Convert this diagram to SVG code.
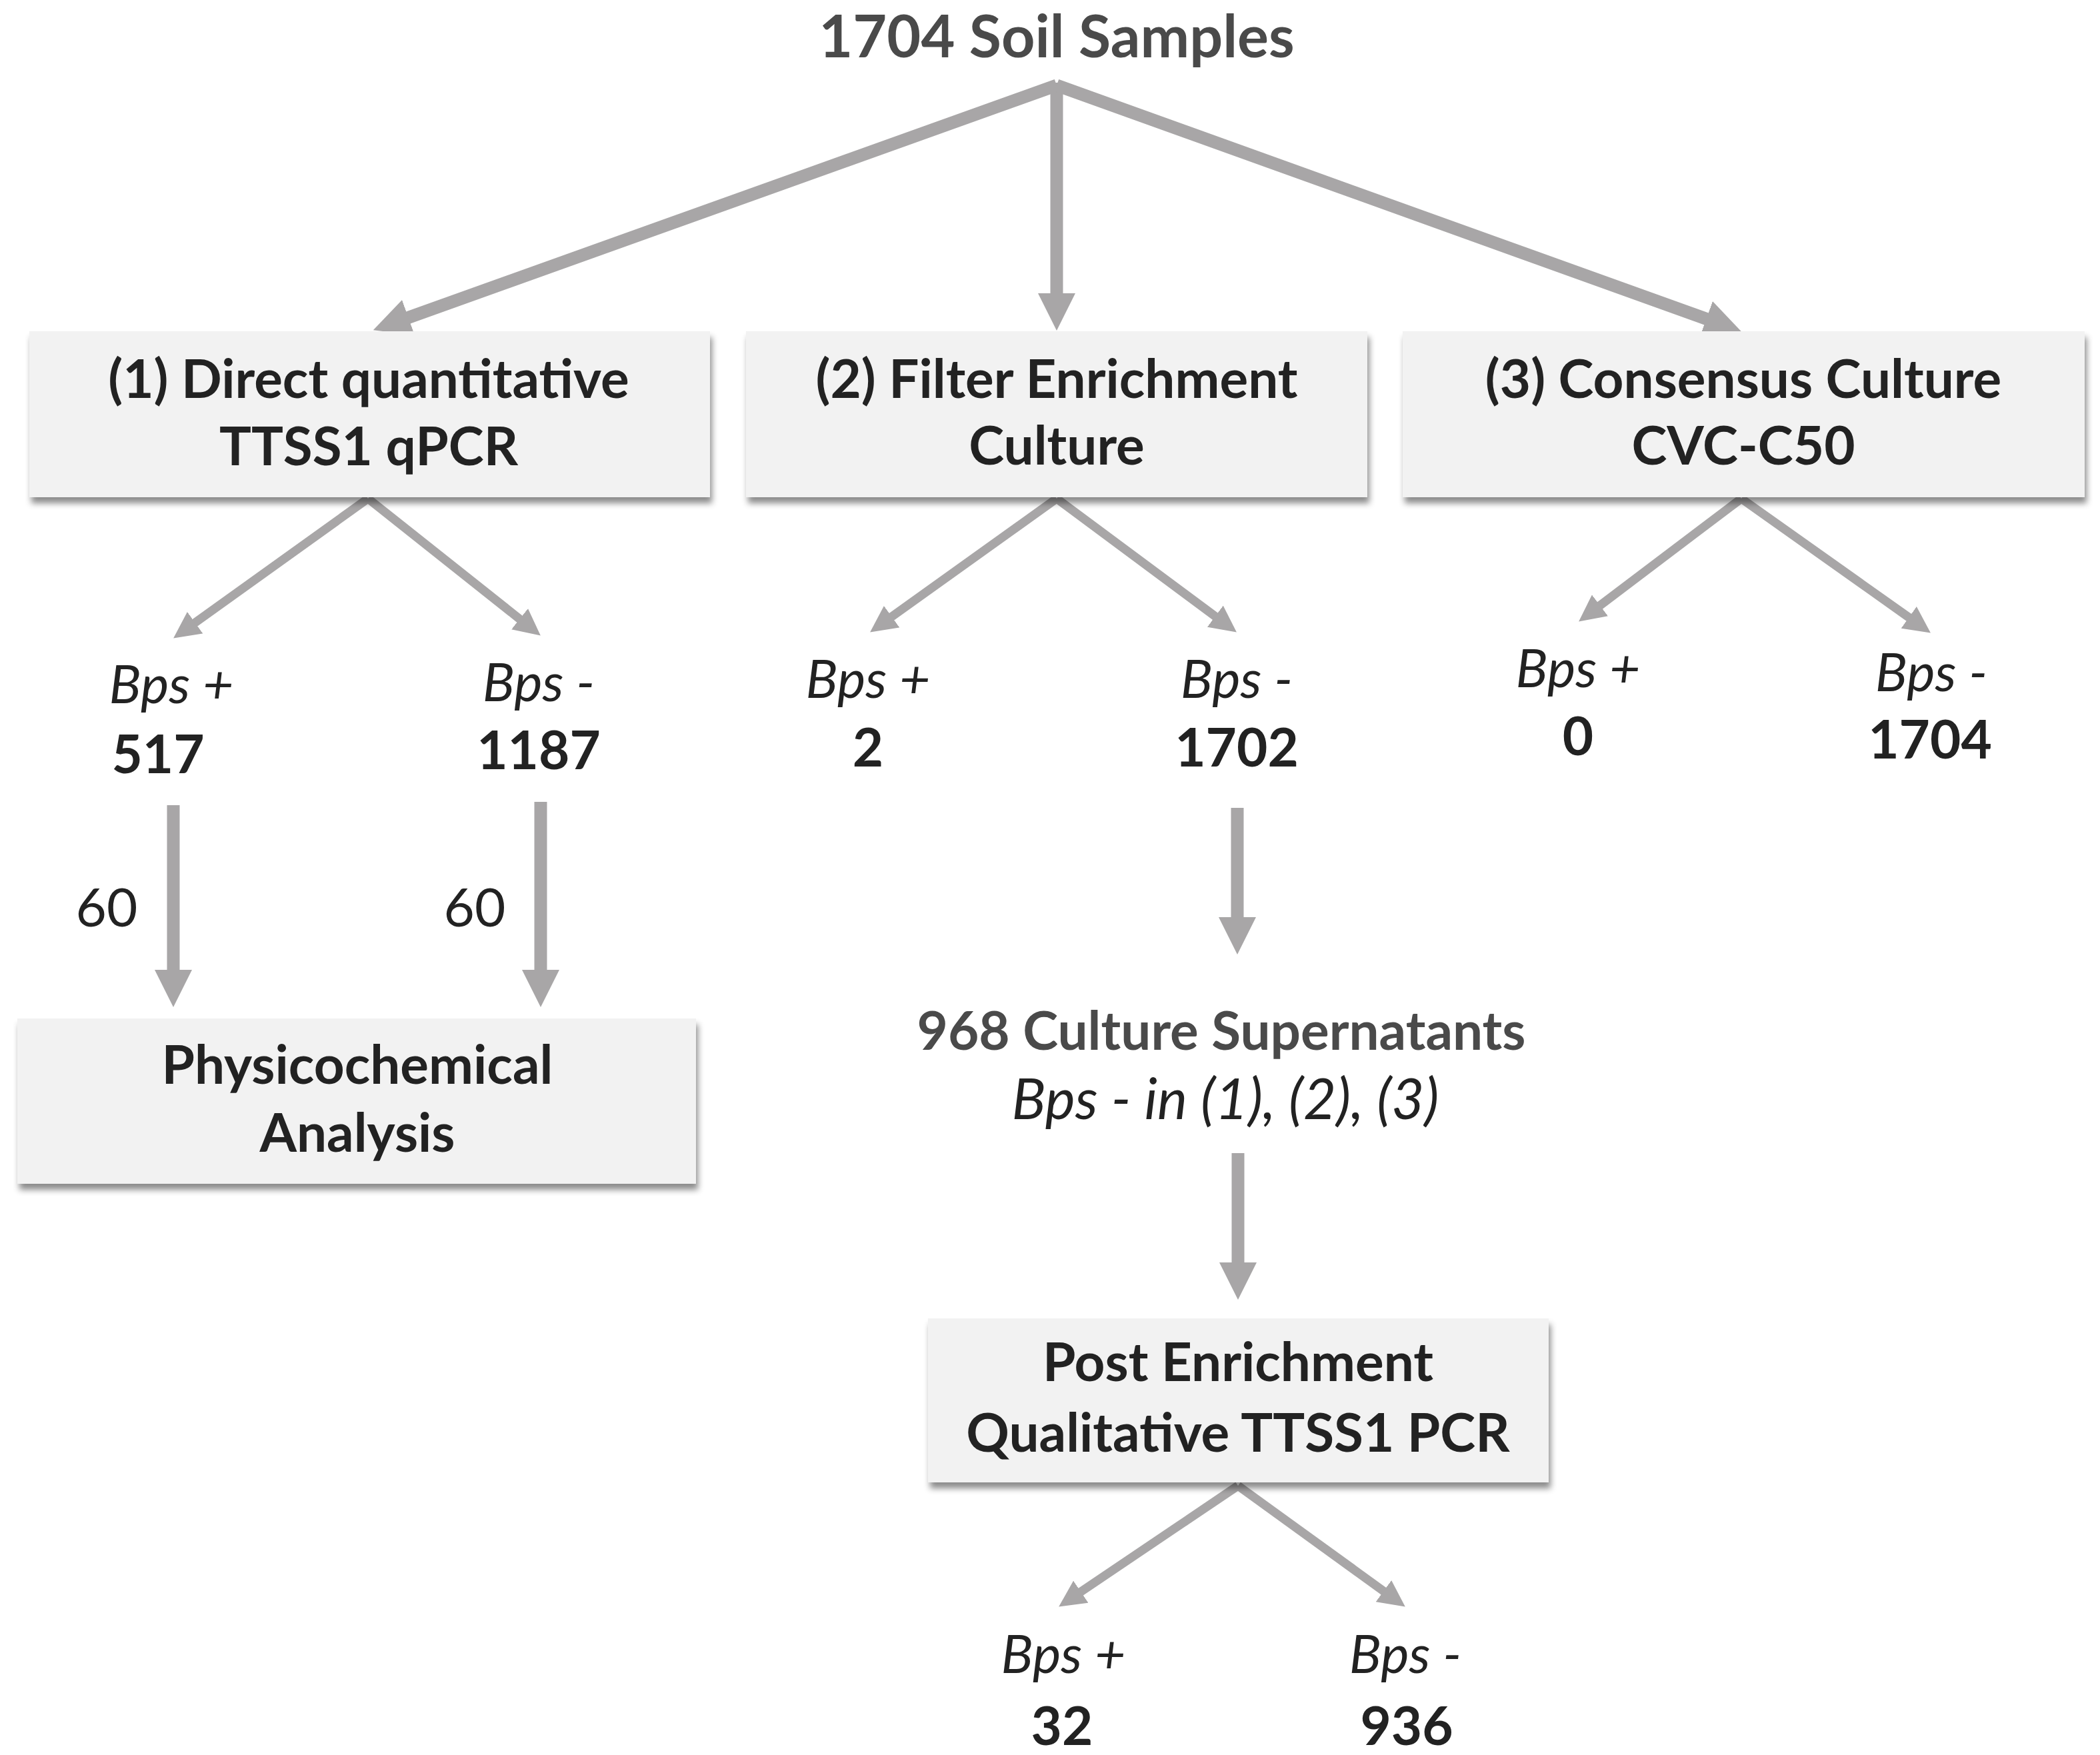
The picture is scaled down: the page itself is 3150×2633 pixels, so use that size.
<svg xmlns="http://www.w3.org/2000/svg" width="3150" height="2633" viewBox="0 0 3150 2633">
<style>
  .bg { fill: #ffffff; }
  .box { fill: #f2f2f2; filter: url(#shadow); }
  .t { font-family: Lato, "Liberation Sans", sans-serif; text-anchor: middle; }
  .bt { font-size: 80px; font-weight: bold; fill: #222222; }
  .title { font-size: 88px; font-weight: bold; fill: #4a4a4a; }
  .sub { font-size: 80px; font-weight: bold; fill: #4a4a4a; }
  .it { font-size: 80px; font-style: italic; fill: #222222; }
  .it2 { font-size: 85px; font-style: italic; fill: #222222; }
  .num { font-size: 80px; font-weight: bold; fill: #222222; }
  .reg { font-size: 80px; fill: #222222; }
  .big { stroke: #a8a6a7; stroke-width: 19; fill: none; marker-end: url(#ahBig); }
  .small { stroke: #a8a6a7; stroke-width: 13; fill: none; marker-end: url(#ahSmall); }
</style>
<defs>
  <filter id="shadow" x="-5%" y="-10%" width="110%" height="130%">
    <feDropShadow dx="3" dy="9" stdDeviation="5" flood-color="#000000" flood-opacity="0.45"/>
  </filter>
  <marker id="ahBig" markerUnits="userSpaceOnUse" viewBox="0 0 56 56" markerWidth="56" markerHeight="56" refX="1" refY="28" orient="auto">
    <path d="M0,0 L56,28 L0,56 Z" fill="#a8a6a7"/>
  </marker>
  <marker id="ahSmall" markerUnits="userSpaceOnUse" viewBox="0 0 40 40" markerWidth="40" markerHeight="40" refX="1" refY="20" orient="auto">
    <path d="M0,0 L40,20 L0,40 Z" fill="#a8a6a7"/>
  </marker>
</defs>
<rect class="bg" x="0" y="0" width="3150" height="2633"/>

<g id="connectors">
  <line class="big" x1="1585" y1="128" x2="611.6" y2="476.8"/>
  <line class="big" x1="1585" y1="124" x2="1585" y2="441"/>
  <line class="big" x1="1585" y1="128" x2="2560.4" y2="478.8"/>

  <line class="small" x1="552" y1="748" x2="291.8" y2="934.8"/>
  <line class="small" x1="552" y1="748" x2="780.3" y2="929.3"/>
  <line class="small" x1="1585" y1="748" x2="1336.8" y2="925.8"/>
  <line class="small" x1="1585" y1="748" x2="1823.6" y2="925.3"/>
  <line class="small" x1="2612" y1="748" x2="2399.2" y2="909"/>
  <line class="small" x1="2612" y1="748" x2="2864.1" y2="926.9"/>

  <line class="big" x1="260" y1="1208" x2="260" y2="1456"/>
  <line class="big" x1="811" y1="1203" x2="811" y2="1456"/>
  <line class="big" x1="1856" y1="1212" x2="1856" y2="1377"/>
  <line class="big" x1="1857" y1="1730" x2="1857" y2="1895"/>

  <line class="small" x1="1857" y1="2229" x2="1620.5" y2="2388.7"/>
  <line class="small" x1="1857" y1="2229" x2="2076.2" y2="2387.7"/>
</g>

<g id="title">
  <text class="t title" x="1585" y="86">1704 Soil Samples</text>
</g>

<g id="box1">
  <rect class="box" x="44" y="497" width="1021" height="249"/>
  <text class="t bt" x="553" y="597">(1) Direct quantitative</text>
  <text class="t bt" x="553" y="698">TTSS1 qPCR</text>
</g>
<g id="box2">
  <rect class="box" x="1119" y="497" width="932" height="249"/>
  <text class="t bt" x="1585" y="597">(2) Filter Enrichment</text>
  <text class="t bt" x="1585" y="697">Culture</text>
</g>
<g id="box3">
  <rect class="box" x="2104" y="497" width="1023" height="249"/>
  <text class="t bt" x="2615" y="597">(3) Consensus Culture</text>
  <text class="t bt" x="2615" y="697">CVC-C50</text>
</g>

<g id="r1pos">
  <text class="t it" x="257" y="1055">Bps +</text>
  <text class="t num" x="237" y="1160">517</text>
</g>
<g id="r1neg">
  <text class="t it" x="808" y="1052">Bps -</text>
  <text class="t num" x="808" y="1154">1187</text>
</g>
<g id="lbl60a"><text class="t reg" x="160" y="1390">60</text></g>
<g id="lbl60b"><text class="t reg" x="712" y="1390">60</text></g>

<g id="r2pos">
  <text class="t it" x="1302" y="1047">Bps +</text>
  <text class="t num" x="1302" y="1150">2</text>
</g>
<g id="r2neg">
  <text class="t it" x="1855" y="1047">Bps -</text>
  <text class="t num" x="1855" y="1150">1702</text>
</g>

<g id="r3pos">
  <text class="t it" x="2367" y="1031">Bps +</text>
  <text class="t num" x="2367" y="1133">0</text>
</g>
<g id="r3neg">
  <text class="t it" x="2897" y="1037">Bps -</text>
  <text class="t num" x="2895" y="1138">1704</text>
</g>

<g id="physico">
  <rect class="box" x="26" y="1528" width="1018" height="248"/>
  <text class="t bt" x="536" y="1626">Physicochemical</text>
  <text class="t bt" x="536" y="1728">Analysis</text>
</g>

<g id="supernatants">
  <text class="t sub" x="1832" y="1575">968 Culture Supernatants</text>
  <text class="t it2" x="1838" y="1679">Bps - in (1), (2), (3)</text>
</g>

<g id="postbox">
  <rect class="box" x="1392" y="1978" width="931" height="246"/>
  <text class="t bt" x="1857" y="2072">Post Enrichment</text>
  <text class="t bt" x="1857" y="2178">Qualitative TTSS1 PCR</text>
</g>

<g id="r4pos">
  <text class="t it" x="1595" y="2510">Bps +</text>
  <text class="t num" x="1593" y="2618">32</text>
</g>
<g id="r4neg">
  <text class="t it" x="2108" y="2510">Bps -</text>
  <text class="t num" x="2110" y="2618">936</text>
</g>
</svg>
